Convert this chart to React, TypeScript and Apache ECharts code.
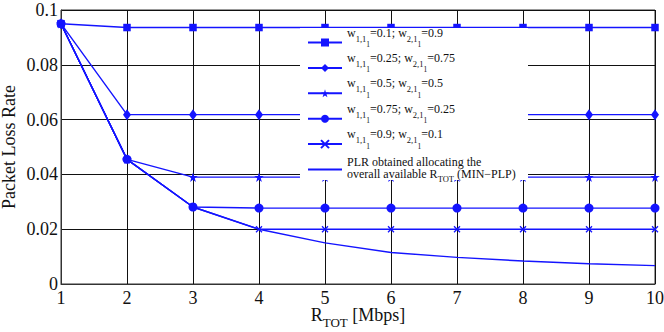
import React, { useEffect, useRef } from "react";
import * as echarts from "echarts";

const rTot = [1, 2, 3, 4, 5, 6, 7, 8, 9, 10];
const xTicks = [1, 2, 3, 4, 5, 6, 7, 8, 9, 10];
const yTicks = [0, 0.02, 0.04, 0.06, 0.08, 0.1];

const w11 = ["0.1", "0.25", "0.5", "0.75", "0.9"];
const w21 = ["0.9", "0.75", "0.5", "0.25", "0.1"];

const plrW01 = [0.095, 0.0936, 0.0936, 0.0936, 0.0936, 0.0936, 0.0936, 0.0936, 0.0936, 0.0936];
const plrW025 = [0.095, 0.0618, 0.0618, 0.0618, 0.0618, 0.0618, 0.0618, 0.0618, 0.0618, 0.0618];
const plrW05 = [0.095, 0.0455, 0.039, 0.039, 0.039, 0.039, 0.039, 0.039, 0.039, 0.039];
const plrW075 = [0.095, 0.0455, 0.0281, 0.0277, 0.0277, 0.0277, 0.0277, 0.0277, 0.0277, 0.0277];
const plrW09 = [0.095, 0.0455, 0.0281, 0.02, 0.02, 0.02, 0.02, 0.02, 0.02, 0.02];
const plrMin = [0.095, 0.0455, 0.0281, 0.02, 0.015, 0.0115, 0.0097, 0.0084, 0.0074, 0.0067];

const minLabel = "PLR obtained allocating the overall available R_TOT (MIN-PLP)";

const BLUE = "#1414ff";
const FONT = "'Liberation Serif', 'Times New Roman', serif";
const STAR = "path://M50,0L61,35L98,35L68,57L79,91L50,70L21,91L32,57L2,35L39,35Z";
const CROSS = "path://M0,0L10,10M10,0L0,10";

const symbols = ["rect", "diamond", STAR, "circle", CROSS];
const symbolSizes: any[] = [7.5, [8, 11], 9.5, 9, 6];
const seriesData = [plrW01, plrW025, plrW05, plrW075, plrW09];

const wNames = w11.map((a, i) => `w1,1_1=${a}; w2,1_1=${w21[i]}`);

// legend icon centres (px)
const legendIconY = [42, 67.4, 92.8, 118.2, 143.6, 169];

export default function App() {
  const ref = useRef<HTMLDivElement>(null);
  useEffect(() => {
    if (!ref.current) return;
    const chart = echarts.init(ref.current, null, { renderer: "svg" });
    const series: any[] = seriesData.map((vals, i) => ({
      name: wNames[i],
      type: "line",
      data: rTot.map((x, j) => [x, vals[j]]),
      symbol: symbols[i],
      symbolSize: symbolSizes[i],
      showAllSymbol: true,
      lineStyle: { color: BLUE, width: 1.4 },
      itemStyle:
        i === 4
          ? { color: BLUE, borderColor: BLUE, borderWidth: 1.3 }
          : { color: BLUE, borderWidth: 0 },
      emphasis: { disabled: true },
      z: 2,
    }));
    series.push({
      name: minLabel,
      type: "line",
      data: rTot.map((x, j) => [x, plrMin[j]]),
      symbol: "none",
      lineStyle: { color: BLUE, width: 1.4 },
      itemStyle: { color: BLUE },
      emphasis: { disabled: true },
      z: 2,
    });

    const legendText = (name: string) => {
      const i = wNames.indexOf(name);
      if (i >= 0) {
        return `{b|w}{s|1,1}{ss|1}{b|=${w11[i]}; w}{s|2,1}{ss|1}{b|=${w21[i]}}`;
      }
      return "{l1|PLR obtained allocating the}\n{l2|overall available R}{lt|TOT}{l2| (MIN\u2212PLP)}";
    };

    const rich = {
      b: { fontFamily: FONT, fontSize: 12, color: "#111", lineHeight: 20, padding: [0, 0, 20, 0] },
      s: { fontFamily: FONT, fontSize: 8.5, color: "#111", lineHeight: 20, padding: [0, 0, 8, 0] },
      ss: { fontFamily: FONT, fontSize: 7.5, color: "#111", lineHeight: 20, padding: [4, 0, 0, 0] },
      l1: { fontFamily: FONT, fontSize: 12, color: "#111", lineHeight: 10, padding: [0, 0, 4.6, 0] },
      l2: { fontFamily: FONT, fontSize: 12, color: "#111", lineHeight: 10, padding: [0, 0, 1.4, 0] },
      lt: { fontFamily: FONT, fontSize: 8.5, color: "#111", lineHeight: 10, padding: [8, 0, 0, 0] },
    };

    const allNames = [...wNames, minLabel];
    const legends = allNames.map((name, i) => ({
      orient: "vertical",
      left: 307,
      top: legendIconY[i] - (i < 5 ? 15.5 : 12.8),
      padding: 0,
      itemWidth: 34,
      itemHeight: 10,
      selectedMode: false,
      z: 4,
      data: [i < 5 ? name : { name, itemStyle: { opacity: 0 } }],
      formatter: legendText,
      textStyle: { fontFamily: FONT, fontSize: 12, color: "#111", rich },
    }));

    chart.setOption({
      animation: false,
      grid: {
        left: 61,
        right: 9,
        top: 10,
        bottom: 48,
        show: true,
        borderColor: "#333",
        borderWidth: 1,
        outerBoundsMode: "none",
        containLabel: false,
      },
      graphic: [
        {
          type: "rect",
          z: 3,
          shape: { x: 300, y: 28, width: 228, height: 152 },
          style: { fill: "#fff" },
          silent: true,
        },
      ],
      xAxis: {
        type: "value",
        min: xTicks[0],
        max: xTicks[xTicks.length - 1],
        interval: 1,
        axisLine: { show: true, lineStyle: { color: "#333", width: 1 } },
        axisTick: { show: false },
        splitLine: { show: true, lineStyle: { color: "#111", width: 1 } },
        axisLabel: { fontFamily: FONT, fontSize: 18, color: "#111", margin: 5 },
        name: "{r|R}{t|TOT}{r| [Mbps]}",
        nameLocation: "middle",
        nameGap: 21,
        nameMoveOverlap: false,
        nameTextStyle: {
          fontFamily: FONT,
          color: "#111",
          rich: {
            r: { fontFamily: FONT, fontSize: 18, color: "#111", lineHeight: 20 },
            t: { fontFamily: FONT, fontSize: 13, color: "#111", lineHeight: 20, padding: [14, 0, 0, 0] },
          },
        },
      },
      yAxis: {
        type: "value",
        min: yTicks[0],
        max: yTicks[yTicks.length - 1],
        interval: 0.02,
        axisLine: { show: true, lineStyle: { color: "#333", width: 1 } },
        axisTick: { show: false },
        splitLine: { show: true, lineStyle: { color: "#111", width: 1 } },
        axisLabel: { fontFamily: FONT, fontSize: 18, color: "#111", margin: 3 },
        name: "Packet Loss Rate",
        nameLocation: "middle",
        nameGap: 43,
        nameMoveOverlap: false,
        nameTextStyle: { fontFamily: FONT, fontSize: 18, color: "#111" },
      },
      legend: legends,
      series,
    });
    return () => chart.dispose();
  }, []);
  return <div ref={ref} style={{ width: 664, height: 332, position: "absolute", left: 0, top: 0 }} />;
}
